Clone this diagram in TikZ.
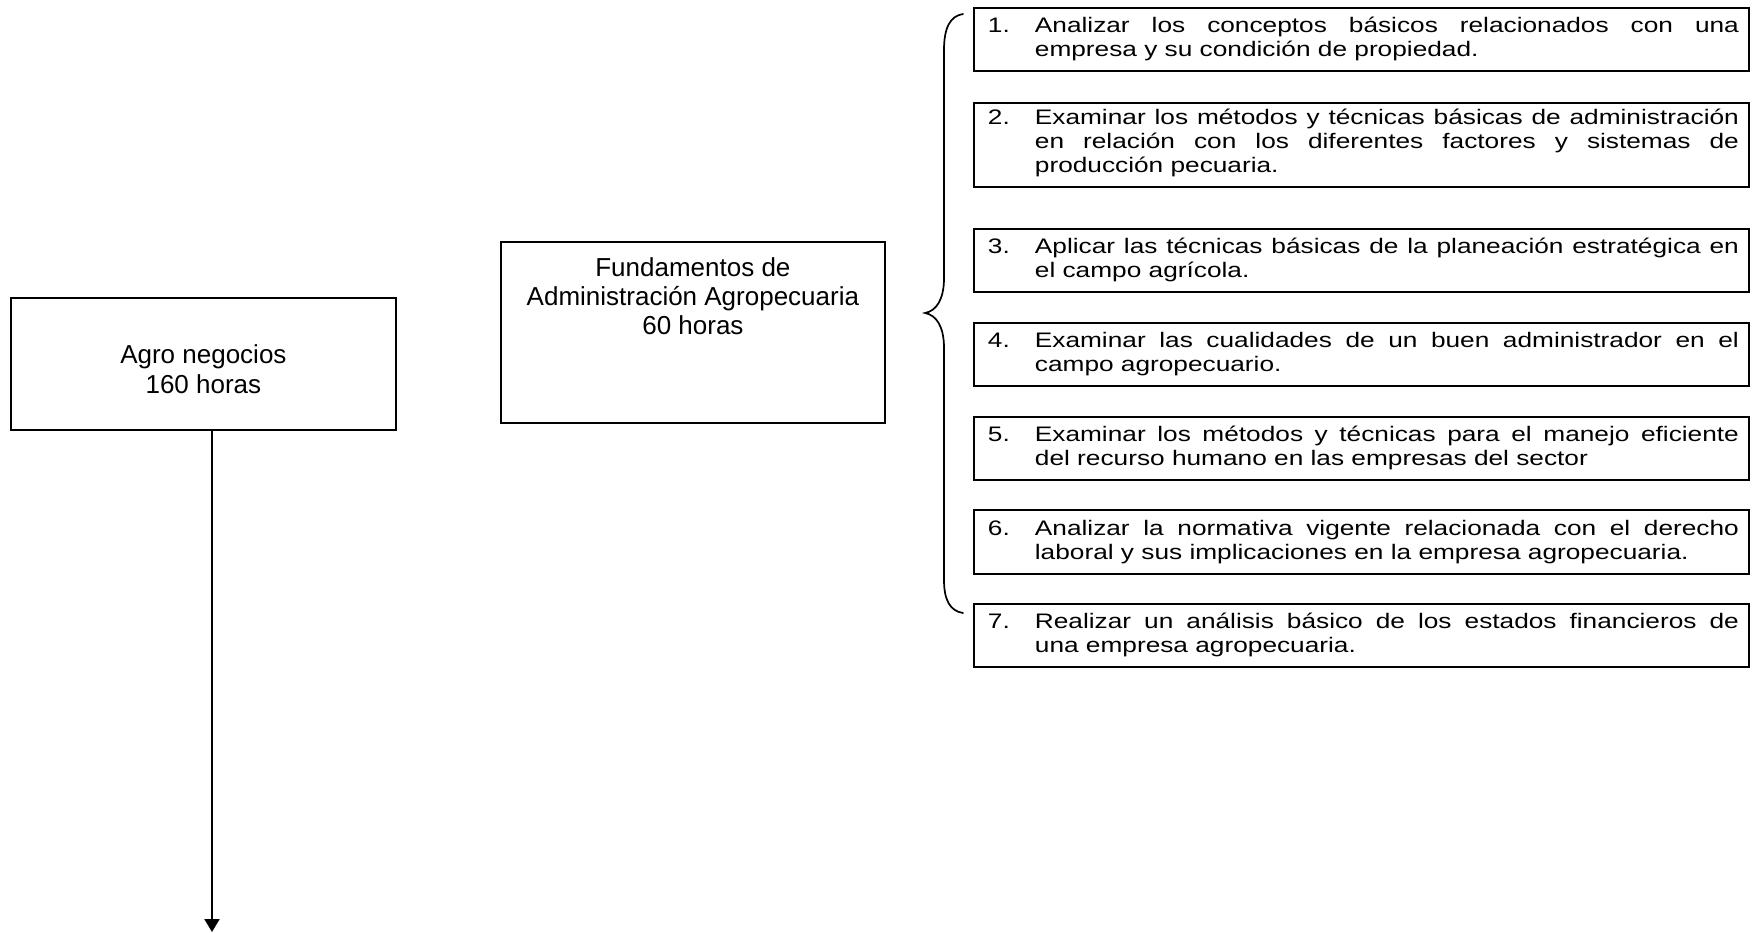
\documentclass[tikz,border=0pt]{standalone}
\usepackage{fontspec}
\setmainfont{Liberation Sans}
\newfontfamily\rightfont[FakeStretch=1.25]{Liberation Sans}
\usetikzlibrary{arrows.meta}
\newcommand\objtext[4]{\parbox[c][#1][t]{775pt}{\rightfont\fontsize{21pt}{24pt}\selectfont
  \hyphenpenalty=10000 \leftskip=61pt \rightskip=10pt \parindent=0pt
  \noindent\hspace*{-47pt}\makebox[47pt][l]{\rule{0pt}{#2}#3}#4\par}}
\tikzset{
  boxnode/.style={draw, line width=1.8pt, inner sep=0pt, anchor=north west},
  bracepath/.style={line width=1.7pt, line cap=round},
  arrowline/.style={line width=2pt, -{Triangle[width=15pt,length=13pt]}}
}
\begin{document}
\begin{tikzpicture}[x=1pt,y=-1pt]
\useasboundingbox (0,0) rectangle (1752,933);

\node[boxnode] (agro) at (10,297) {\parbox[c][132pt][t]{385pt}{\centering\fontsize{26pt}{30pt}\selectfont\rule{0pt}{66pt}Agro negocios\\160 horas}};

\node[boxnode] (fund) at (500,241) {\parbox[c][181pt][t]{384pt}{\centering\fontsize{26pt}{29pt}\selectfont\rule{0pt}{35pt}Fundamentos de\\Administración Agropecuaria\\60 horas}};

\node[boxnode] (o1) at (973,7) {\objtext{63pt}{25pt}{1.}{Analizar los conceptos básicos relacionados con una\linebreak empresa y su condición de propiedad.}};
\node[boxnode] (o2) at (973,102) {\objtext{84pt}{22pt}{2.}{Examinar los métodos y técnicas básicas de administración\linebreak en relación con los diferentes factores y sistemas de\linebreak producción pecuaria.}};
\node[boxnode] (o3) at (973,228) {\objtext{63pt}{25pt}{3.}{Aplicar las técnicas básicas de la planeación estratégica en\linebreak el campo agrícola.}};
\node[boxnode] (o4) at (973,322) {\objtext{63pt}{25pt}{4.}{Examinar las cualidades de un buen administrador en el\linebreak campo agropecuario.}};
\node[boxnode] (o5) at (973,416) {\objtext{63pt}{25pt}{5.}{Examinar los métodos y técnicas para el manejo eficiente\linebreak del recurso humano en las empresas del sector}};
\node[boxnode] (o6) at (973,509) {\objtext{64pt}{26pt}{6.}{Analizar la normativa vigente relacionada con el derecho\linebreak laboral y sus implicaciones en la empresa agropecuaria.}};
\node[boxnode] (o7) at (973,603) {\objtext{63pt}{25pt}{7.}{Realizar un análisis básico de los estados financieros de\linebreak una empresa agropecuaria.}};

% brace
\coordinate (btop) at (963,14);
\coordinate (btip) at (925,313);
\coordinate (bbot) at (963,613);
\draw[bracepath] (btop) .. controls (950,16) and (944,28) .. (944,50) -- (944,278)
  .. controls (944,300) and (936,311) .. (btip)
  .. controls (936,315) and (944,326) .. (944,348) -- (944,580)
  .. controls (944,600) and (950,611) .. (bbot);

% arrow
\coordinate (aend) at (212,932);
\draw[arrowline] (agro.south -| aend) -- (aend);
\end{tikzpicture}
\end{document}
